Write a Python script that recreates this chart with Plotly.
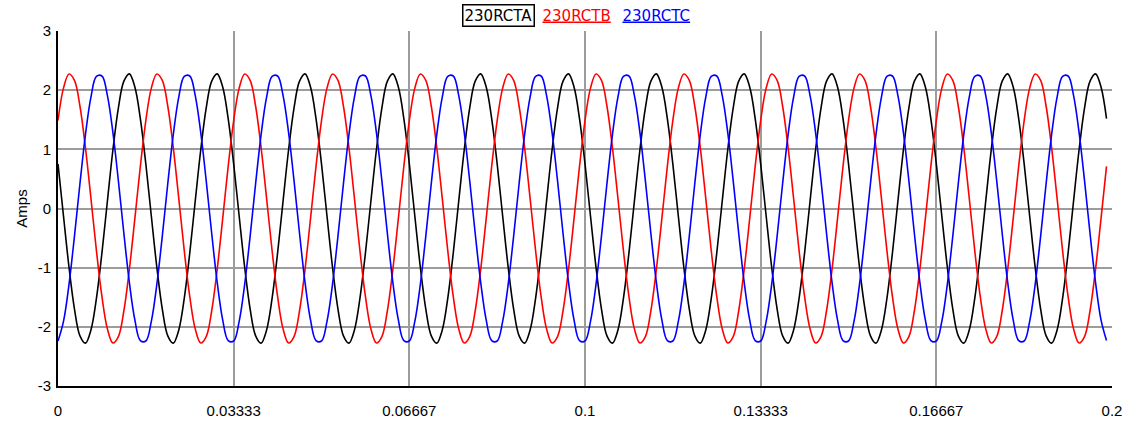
import plotly.graph_objects as go

# Sampling: 960 samples/s (16 per 60 Hz cycle), 192 samples from t = 0
SAMPLE_INTERVAL = 1 / 960

series_names = ["230RCTA", "230RCTB", "230RCTC"]
series_colors = ["#000000", "#ff0000", "#0000ff"]

# 230RCTA (black) - amps, one row per cycle
rcta = [
    0.754, -0.127, -0.989, -1.700, -2.152, -2.276, -2.054, -1.520, -0.754, 0.127, 0.989, 1.700, 2.152, 2.276, 2.054, 1.520,
    0.754, -0.127, -0.989, -1.700, -2.152, -2.276, -2.054, -1.520, -0.754, 0.127, 0.989, 1.700, 2.152, 2.276, 2.054, 1.520,
    0.754, -0.127, -0.989, -1.700, -2.152, -2.276, -2.054, -1.520, -0.754, 0.127, 0.989, 1.700, 2.152, 2.276, 2.054, 1.520,
    0.754, -0.127, -0.989, -1.700, -2.152, -2.276, -2.054, -1.520, -0.754, 0.127, 0.989, 1.700, 2.152, 2.276, 2.054, 1.520,
    0.754, -0.127, -0.989, -1.700, -2.152, -2.276, -2.054, -1.520, -0.754, 0.127, 0.989, 1.700, 2.152, 2.276, 2.054, 1.520,
    0.754, -0.127, -0.989, -1.700, -2.152, -2.276, -2.054, -1.520, -0.754, 0.127, 0.989, 1.700, 2.152, 2.276, 2.054, 1.520,
    0.754, -0.127, -0.989, -1.700, -2.152, -2.276, -2.054, -1.520, -0.754, 0.127, 0.989, 1.700, 2.152, 2.276, 2.054, 1.520,
    0.754, -0.127, -0.989, -1.700, -2.152, -2.276, -2.054, -1.520, -0.754, 0.127, 0.989, 1.700, 2.152, 2.276, 2.054, 1.520,
    0.754, -0.127, -0.989, -1.700, -2.152, -2.276, -2.054, -1.520, -0.754, 0.127, 0.989, 1.700, 2.152, 2.276, 2.054, 1.520,
    0.754, -0.127, -0.989, -1.700, -2.152, -2.276, -2.054, -1.520, -0.754, 0.127, 0.989, 1.700, 2.152, 2.276, 2.054, 1.520,
    0.754, -0.127, -0.989, -1.700, -2.152, -2.276, -2.054, -1.520, -0.754, 0.127, 0.989, 1.700, 2.152, 2.276, 2.054, 1.520,
    0.754, -0.127, -0.989, -1.700, -2.152, -2.276, -2.054, -1.520, -0.754, 0.127, 0.989, 1.700, 2.152, 2.276, 2.054, 1.520,
]

# 230RCTB (red)
rctb = [
    1.487, 2.035, 2.274, 2.166, 1.728, 1.028, 0.171, -0.712, -1.487, -2.035, -2.274, -2.166, -1.728, -1.028, -0.171, 0.712,
    1.487, 2.035, 2.274, 2.166, 1.728, 1.028, 0.171, -0.712, -1.487, -2.035, -2.274, -2.166, -1.728, -1.028, -0.171, 0.712,
    1.487, 2.035, 2.274, 2.166, 1.728, 1.028, 0.171, -0.712, -1.487, -2.035, -2.274, -2.166, -1.728, -1.028, -0.171, 0.712,
    1.487, 2.035, 2.274, 2.166, 1.728, 1.028, 0.171, -0.712, -1.487, -2.035, -2.274, -2.166, -1.728, -1.028, -0.171, 0.712,
    1.487, 2.035, 2.274, 2.166, 1.728, 1.028, 0.171, -0.712, -1.487, -2.035, -2.274, -2.166, -1.728, -1.028, -0.171, 0.712,
    1.487, 2.035, 2.274, 2.166, 1.728, 1.028, 0.171, -0.712, -1.487, -2.035, -2.274, -2.166, -1.728, -1.028, -0.171, 0.712,
    1.487, 2.035, 2.274, 2.166, 1.728, 1.028, 0.171, -0.712, -1.487, -2.035, -2.274, -2.166, -1.728, -1.028, -0.171, 0.712,
    1.487, 2.035, 2.274, 2.166, 1.728, 1.028, 0.171, -0.712, -1.487, -2.035, -2.274, -2.166, -1.728, -1.028, -0.171, 0.712,
    1.487, 2.035, 2.274, 2.166, 1.728, 1.028, 0.171, -0.712, -1.487, -2.035, -2.274, -2.166, -1.728, -1.028, -0.171, 0.712,
    1.487, 2.035, 2.274, 2.166, 1.728, 1.028, 0.171, -0.712, -1.487, -2.035, -2.274, -2.166, -1.728, -1.028, -0.171, 0.712,
    1.487, 2.035, 2.274, 2.166, 1.728, 1.028, 0.171, -0.712, -1.487, -2.035, -2.274, -2.166, -1.728, -1.028, -0.171, 0.712,
    1.487, 2.035, 2.274, 2.166, 1.728, 1.028, 0.171, -0.712, -1.487, -2.035, -2.274, -2.166, -1.728, -1.028, -0.171, 0.712,
]

# 230RCTC (blue)
rctc = [
    -2.240, -1.908, -1.285, -0.466, 0.423, 1.249, 1.883, 2.232, 2.240, 1.908, 1.285, 0.466, -0.423, -1.249, -1.883, -2.232,
    -2.240, -1.908, -1.285, -0.466, 0.423, 1.249, 1.883, 2.232, 2.240, 1.908, 1.285, 0.466, -0.423, -1.249, -1.883, -2.232,
    -2.240, -1.908, -1.285, -0.466, 0.423, 1.249, 1.883, 2.232, 2.240, 1.908, 1.285, 0.466, -0.423, -1.249, -1.883, -2.232,
    -2.240, -1.908, -1.285, -0.466, 0.423, 1.249, 1.883, 2.232, 2.240, 1.908, 1.285, 0.466, -0.423, -1.249, -1.883, -2.232,
    -2.240, -1.908, -1.285, -0.466, 0.423, 1.249, 1.883, 2.232, 2.240, 1.908, 1.285, 0.466, -0.423, -1.249, -1.883, -2.232,
    -2.240, -1.908, -1.285, -0.466, 0.423, 1.249, 1.883, 2.232, 2.240, 1.908, 1.285, 0.466, -0.423, -1.249, -1.883, -2.232,
    -2.240, -1.908, -1.285, -0.466, 0.423, 1.249, 1.883, 2.232, 2.240, 1.908, 1.285, 0.466, -0.423, -1.249, -1.883, -2.232,
    -2.240, -1.908, -1.285, -0.466, 0.423, 1.249, 1.883, 2.232, 2.240, 1.908, 1.285, 0.466, -0.423, -1.249, -1.883, -2.232,
    -2.240, -1.908, -1.285, -0.466, 0.423, 1.249, 1.883, 2.232, 2.240, 1.908, 1.285, 0.466, -0.423, -1.249, -1.883, -2.232,
    -2.240, -1.908, -1.285, -0.466, 0.423, 1.249, 1.883, 2.232, 2.240, 1.908, 1.285, 0.466, -0.423, -1.249, -1.883, -2.232,
    -2.240, -1.908, -1.285, -0.466, 0.423, 1.249, 1.883, 2.232, 2.240, 1.908, 1.285, 0.466, -0.423, -1.249, -1.883, -2.232,
    -2.240, -1.908, -1.285, -0.466, 0.423, 1.249, 1.883, 2.232, 2.240, 1.908, 1.285, 0.466, -0.423, -1.249, -1.883, -2.232,
]

x_tick_values = [0, 1 / 30, 2 / 30, 0.1, 4 / 30, 5 / 30, 0.2]
x_tick_labels = ["0", "0.03333", "0.06667", "0.1", "0.13333", "0.16667", "0.2"]
y_tick_values = [-3, -2, -1, 0, 1, 2, 3]
y_tick_labels = ["-3", "-2", "-1", "0", "1", "2", "3"]

FONT = "Liberation Sans, Arial, sans-serif"
LEGEND_FONT = "DejaVu Sans, Verdana, sans-serif"

fig = go.Figure()
for name, color, vals in zip(series_names, series_colors, [rcta, rctb, rctc]):
    fig.add_trace(go.Scatter(
        y=vals, x0=0, dx=SAMPLE_INTERVAL, mode="lines", name=name,
        line=dict(color=color, width=1.6, shape="spline", smoothing=1),
        showlegend=False,
    ))

fig.update_layout(
    width=1129, height=423,
    margin=dict(l=58, r=17, t=31, b=37),
    paper_bgcolor="white", plot_bgcolor="white",
    font=dict(family=FONT, size=15, color="black"),
)
fig.update_xaxes(
    range=[0, 0.2], tickmode="array", tickvals=x_tick_values, ticktext=x_tick_labels,
    showgrid=True, gridcolor="#9c9c9c", gridwidth=1.5,
    showline=True, linecolor="black", linewidth=2, zeroline=False,
    ticks="", ticklabelstandoff=10, tickfont=dict(size=15), automargin=False,
)
fig.update_yaxes(
    range=[-3, 3], tickmode="array", tickvals=y_tick_values, ticktext=y_tick_labels,
    showgrid=True, gridcolor="#9c9c9c", gridwidth=1.5,
    showline=True, linecolor="black", linewidth=2, zeroline=False,
    ticks="", ticklabelstandoff=2, tickfont=dict(size=15), automargin=False,
    title=dict(text="Amps", font=dict(size=15), standoff=6),
)

# legend drawn as text labels at the top centre
legend_x = [0.418, 0.4924, 0.5678]
for name, color, lx in zip(series_names, series_colors, legend_x):
    boxed = name == "230RCTA"
    fig.add_annotation(
        xref="paper", yref="paper", x=lx, y=1.0423, text=name, showarrow=False,
        font=dict(family=LEGEND_FONT, size=15, color=color,
                  lineposition="none" if boxed else "under"),
        bordercolor="black" if boxed else "rgba(0,0,0,0)", borderwidth=1.5,
        borderpad=1, xanchor="center", yanchor="middle",
    )

fig.write_html("out.html")
